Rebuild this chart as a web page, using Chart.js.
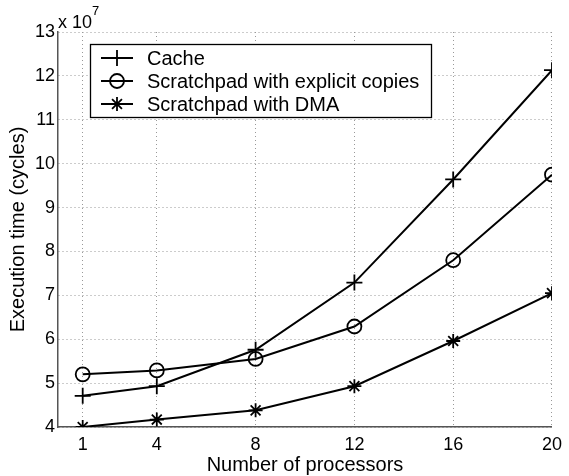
<!DOCTYPE html>
<html>
<head>
<meta charset="utf-8">
<script src="https://cdn.jsdelivr.net/npm/chart.js"></script>
<style>
html, body { margin: 0; padding: 0; background: #fff; }
</style>
</head>
<body>
<canvas id="chart" width="569" height="476"></canvas>
<script>
// values, in units of 10^7 cycles
const processors = [1, 4, 8, 12, 16, 20];
const cacheCycles = [4.71, 4.93, 5.76, 7.29, 9.64, 12.13];
const explicitCycles = [5.20, 5.29, 5.55, 6.29, 7.80, 9.75];
const dmaCycles = [4.00, 4.17, 4.38, 4.93, 5.96, 7.05];
const seriesNames = ['Cache', 'Scratchpad with explicit copies', 'Scratchpad with DMA'];
const xTicks = [1, 4, 8, 12, 16, 20];
const yTicks = [4, 5, 6, 7, 8, 9, 10, 11, 12, 13];

const FONT = '"Liberation Sans", Arial, Helvetica, sans-serif';
Chart.defaults.font.family = FONT;
Chart.defaults.font.size = 18;
Chart.defaults.color = '#000';

function toPoints(vals) {
    return processors.map((p, i) => ({ x: p, y: vals[i] }));
}

function series(label, vals, style, radius) {
    return {
        label: label,
        data: toPoints(vals),
        borderColor: '#000',
        borderWidth: 2,
        tension: 0,
        pointStyle: style,
        pointRadius: radius,
        pointBorderColor: '#000',
        pointBorderWidth: 1.8,
        pointBackgroundColor: 'rgba(0,0,0,0)'
    };
}

// legend box drawn inside the plot, like the original
const boxLegend = {
    id: 'boxLegend',
    afterDraw(chart) {
        const ctx = chart.ctx, a = chart.chartArea;
        const x0 = a.left + 32, y0 = a.top + 12, w = 341, h = 73;
        ctx.save();
        ctx.fillStyle = '#fff';
        ctx.fillRect(x0, y0, w, h);
        ctx.strokeStyle = '#000';
        ctx.lineWidth = 1.3;
        ctx.strokeRect(x0 + 0.5, y0 + 0.5, w, h);
        ctx.font = '20px ' + FONT;
        ctx.textBaseline = 'middle';
        chart.data.datasets.forEach((ds, i) => {
            const cy = y0 + 14 + i * 23;
            ctx.strokeStyle = '#000';
            ctx.lineWidth = 2;
            ctx.setLineDash([]);
            ctx.beginPath();
            ctx.moveTo(x0 + 11, cy);
            ctx.lineTo(x0 + 43, cy);
            ctx.stroke();
            ctx.fillStyle = 'rgba(0,0,0,0)';
            ctx.lineWidth = ds.pointBorderWidth;
            Chart.helpers.drawPoint(ctx, {
                pointStyle: ds.pointStyle, rotation: 0,
                radius: ds.pointRadius, borderWidth: ds.pointBorderWidth
            }, x0 + 27, cy);
            ctx.fillStyle = '#000';
            ctx.fillText(ds.label, x0 + 57, cy + 1);
        });
        ctx.restore();
    }
};

// "x 10^7" multiplier above the y axis
const expLabel = {
    id: 'expLabel',
    afterDraw(chart) {
        const ctx = chart.ctx, a = chart.chartArea;
        ctx.save();
        ctx.fillStyle = '#000';
        ctx.textBaseline = 'alphabetic';
        ctx.font = '18px ' + FONT;
        ctx.fillText('x 10', a.left, 28);
        const w = ctx.measureText('x 10').width;
        ctx.font = '13px ' + FONT;
        ctx.fillText('7', a.left + w, 15);
        ctx.restore();
    }
};

new Chart(document.getElementById('chart'), {
    type: 'line',
    data: {
        datasets: [
            series(seriesNames[0], cacheCycles, 'cross', 8),
            series(seriesNames[1], explicitCycles, 'circle', 7),
            series(seriesNames[2], dmaCycles, 'star', 7)
        ]
    },
    options: {
        responsive: false,
        animation: false,
        devicePixelRatio: 1,
        layout: { padding: { top: 32, right: 11, left: 0, bottom: 0 } },
        plugins: { legend: { display: false }, tooltip: { enabled: false } },
        scales: {
            x: {
                type: 'linear',
                min: 0,
                max: 20,
                afterBuildTicks: s => { s.ticks = xTicks.map(v => ({ value: v })); },
                afterFit: s => { s.height = 49; },
                grid: { color: '#999', drawTicks: false, lineWidth: 1 },
                border: { display: true, color: '#555', width: 1.5, dash: [1, 3] },
                ticks: { padding: 7, maxRotation: 0, autoSkip: false },
                title: { display: true, text: 'Number of processors', font: { size: 20 }, padding: { top: 0, bottom: -1 } }
            },
            y: {
                min: 4,
                max: 13,
                afterBuildTicks: s => { s.ticks = yTicks.map(v => ({ value: v })); },
                afterFit: s => { s.width = 58; },
                grid: { color: '#999', drawTicks: false, lineWidth: 1 },
                border: { display: true, color: '#555', width: 1.5, dash: [1, 3] },
                ticks: { padding: 3 },
                title: { display: true, text: 'Execution time (cycles)', font: { size: 20 }, padding: { top: 6, bottom: 0 } }
            }
        }
    },
    plugins: [boxLegend, expLabel]
});
</script>
</body>
</html>
